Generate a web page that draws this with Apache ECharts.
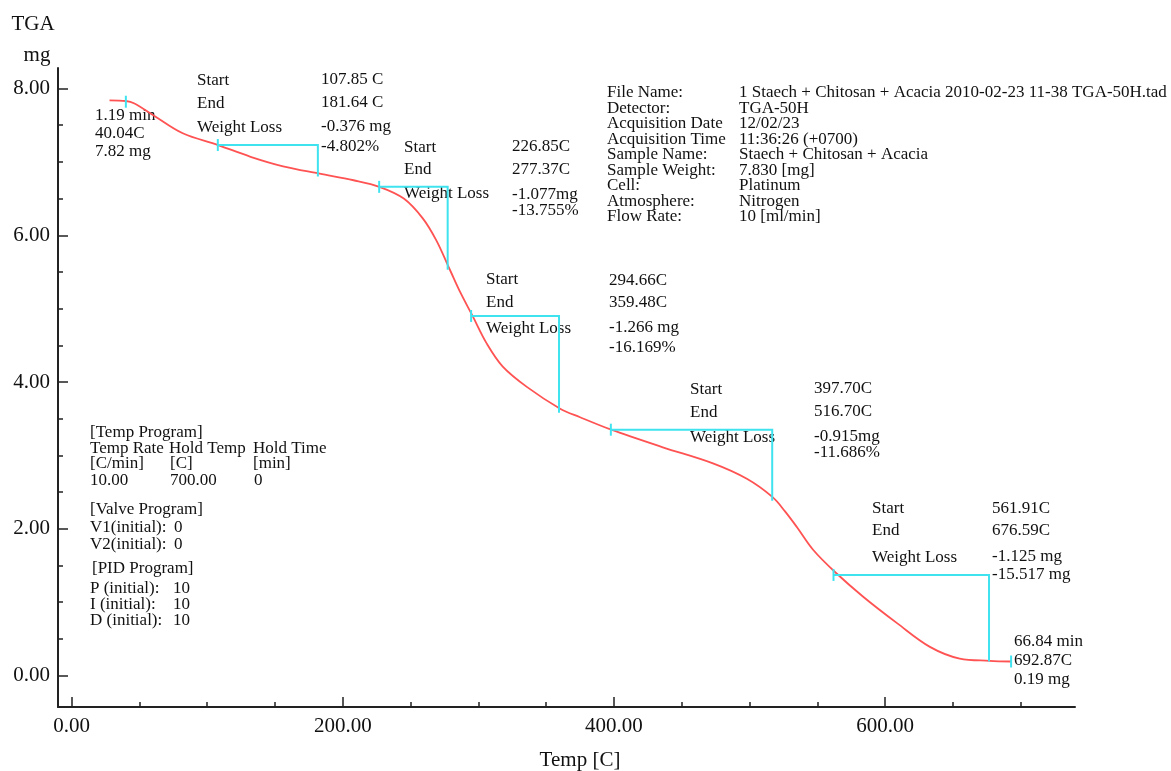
<!DOCTYPE html>
<html>
<head>
<meta charset="utf-8">
<title>TGA - Staech + Chitosan + Acacia</title>
<script src="https://cdn.jsdelivr.net/npm/echarts@6/dist/echarts.min.js"></script>
<style>
  html, body { margin: 0; padding: 0; background: #fff; }
  #chart { width: 1171px; height: 771px; }
</style>
</head>
<body>
<div id="chart"></div>
<script>
// ---- TGA curve: temperature (C) vs sample weight (mg) ----
const tempC = [28, 40, 46, 60, 82, 108, 132, 156, 183, 208, 227, 245, 259, 269, 279, 287, 296, 306, 318, 336,
               360, 375, 398, 436, 473, 498, 517, 526, 535, 547, 563, 584, 609, 633, 655, 677, 693];
const weightMg = [7.84, 7.83, 7.80, 7.64, 7.39, 7.23, 7.07, 6.94, 6.84, 6.75, 6.66, 6.50, 6.23, 5.93, 5.53, 5.21, 4.89, 4.53, 4.21, 3.93,
                  3.64, 3.52, 3.35, 3.11, 2.89, 2.68, 2.43, 2.24, 2.02, 1.71, 1.41, 1.07, 0.71, 0.39, 0.23, 0.20, 0.19];

// ---- weight-loss steps ----
const stepStartT = [107.85, 226.85, 294.66, 397.70, 561.91];
const stepEndT = [181.64, 277.37, 359.48, 516.70, 676.59];
const stepStartW = [7.23, 6.66, 4.90, 3.35, 1.37];
const stepLossMg = [0.376, 1.077, 1.266, 0.915, 1.125];
const stepStartText = ['107.85 C', '226.85C', '294.66C', '397.70C', '561.91C'];
const stepEndText = ['181.64 C', '277.37C', '359.48C', '516.70C', '676.59C'];
const stepLossText = ['-0.376 mg', '-1.077mg', '-1.266 mg', '-0.915mg', '-1.125 mg'];
const stepPctText = ['-4.802%', '-13.755%', '-16.169%', '-11.686%', '-15.517 mg'];

// ---- first / last readings ----
const pointTemp = [40.04, 692.87];
const pointWeight = [7.82, 0.19];
const pointTime = ['1.19 min', '66.84 min'];

// ---- axis ticks ----
const xMajorTicks = [0, 200, 400, 600];
const xMinorTicks = [0, 50, 100, 150, 200, 250, 300, 350, 400, 450, 500, 550, 600, 650, 700];
const yMajorTicks = [0, 2, 4, 6, 8];
const yMinorTicks = [0, 0.5, 1, 1.5, 2, 2.5, 3, 3.5, 4, 4.5, 5, 5.5, 6, 6.5, 7, 7.5, 8];

// ---- run information ----
const infoKeys = ['File Name:', 'Detector:', 'Acquisition Date', 'Acquisition Time', 'Sample Name:',
                  'Sample Weight:', 'Cell:', 'Atmosphere:', 'Flow Rate:'];
const infoValues = ['1 Staech + Chitosan + Acacia 2010-02-23 11-38 TGA-50H.tad', 'TGA-50H', '12/02/23',
                    '11:36:26 (+0700)', 'Staech + Chitosan + Acacia', '7.830 [mg]', 'Platinum', 'Nitrogen', '10 [ml/min]'];

const SERIF = '"Liberation Serif", "Times New Roman", serif';
const INK = '#111';
const CYAN = '#3fe3f0';
const RED = '#ff5252';
const BODY = 17;

const graphics = [];
function addText(text, x, y, size, align) {
  graphics.push({
    type: 'text', x: x, y: y, silent: true,
    style: {
      text: text, fill: INK, fontSize: size || BODY, fontFamily: SERIF,
      align: align || 'left', verticalAlign: 'middle',
      textAlign: align || 'left', textVerticalAlign: 'middle'
    }
  });
}

// axis titles
addText('TGA', 33, 24, 21, 'center');
addText('mg', 37, 55, 21, 'center');
addText('Temp [C]', 580, 760, 21, 'center');

// run information block
infoKeys.forEach((k, i) => {
  const y = 93 + i * 15.5;
  addText(k, 607, y);
  addText(infoValues[i], 739, y);
});

// temperature / valve / PID program block
const programRows = [
  ['[Temp Program]', 90, 433],
  ['Temp Rate', 90, 449], ['Hold Temp', 169, 449], ['Hold Time', 253, 449],
  ['[C/min]', 90, 464], ['[C]', 170, 464], ['[min]', 253, 464],
  ['10.00', 90, 481], ['700.00', 170, 481], ['0', 254, 481],
  ['[Valve Program]', 90, 510],
  ['V1(initial):', 90, 528], ['0', 174, 528],
  ['V2(initial):', 90, 545], ['0', 174, 545],
  ['[PID Program]', 92, 569],
  ['P (initial):', 90, 589], ['10', 173, 589],
  ['I (initial):', 90, 605], ['10', 173, 605],
  ['D (initial):', 90, 621], ['10', 173, 621]
];
programRows.forEach(r => addText(r[0], r[1], r[2]));

// step annotation blocks: label column x, value column x, label rows, value rows
const stepLayout = [
  { lx: 197, vx: 321, ly: [81, 104, 128], vy: [80, 103, 127, 147] },
  { lx: 404, vx: 512, ly: [148, 170, 194], vy: [147, 170, 195, 211] },
  { lx: 486, vx: 609, ly: [280, 303, 329], vy: [281, 303, 328, 348] },
  { lx: 690, vx: 814, ly: [390, 413, 438], vy: [389, 412, 437, 453] },
  { lx: 872, vx: 992, ly: [509, 531, 558], vy: [509, 531, 557, 575] }
];
stepLayout.forEach((s, i) => {
  addText('Start', s.lx, s.ly[0]);
  addText('End', s.lx, s.ly[1]);
  addText('Weight Loss', s.lx, s.ly[2]);
  addText(stepStartText[i], s.vx, s.vy[0]);
  addText(stepEndText[i], s.vx, s.vy[1]);
  addText(stepLossText[i], s.vx, s.vy[2]);
  addText(stepPctText[i], s.vx, s.vy[3]);
});

// first / last point readouts
const pointLayout = [{ x: 95, y: [116, 134, 152] }, { x: 1014, y: [642, 661, 680] }];
pointLayout.forEach((p, i) => {
  addText(pointTime[i], p.x, p.y[0]);
  addText(pointTemp[i].toFixed(2) + 'C', p.x, p.y[1]);
  addText(pointWeight[i].toFixed(2) + ' mg', p.x, p.y[2]);
});

const axisLineStyle = { color: '#222', width: 2 };
const tickLine = { color: '#222', width: 1.5 };
const fmt2 = v => Number(v).toFixed(2);
const tickFont = { fontSize: 21, fontFamily: SERIF, color: INK };

const option = {
  animation: false,
  backgroundColor: '#fff',
  grid: { left: 58, right: 96, top: 68, bottom: 64, containLabel: false },
  xAxis: [
    {
      type: 'value', min: -10, max: 740, position: 'bottom',
      axisLine: { show: true, onZero: false, lineStyle: axisLineStyle },
      axisTick: { show: true, inside: true, length: 5, customValues: xMinorTicks, lineStyle: tickLine },
      axisLabel: Object.assign({ show: true, customValues: xMajorTicks, formatter: fmt2, margin: 9 }, tickFont),
      splitLine: { show: false }
    },
    {
      type: 'value', min: -10, max: 740, position: 'bottom', offset: 0,
      axisLine: { show: false, onZero: false },
      axisTick: { show: true, inside: true, length: 10, customValues: xMajorTicks, lineStyle: tickLine },
      axisLabel: { show: false },
      splitLine: { show: false }
    }
  ],
  yAxis: [
    {
      type: 'value', min: -0.43, max: 8.28, position: 'left',
      axisLine: { show: true, onZero: false, lineStyle: axisLineStyle },
      axisTick: { show: true, inside: true, length: 5, customValues: yMinorTicks, lineStyle: tickLine },
      axisLabel: Object.assign({ show: true, customValues: yMajorTicks, formatter: fmt2, margin: 8 }, tickFont),
      splitLine: { show: false }
    },
    {
      type: 'value', min: -0.43, max: 8.28, position: 'left', offset: 0,
      axisLine: { show: false, onZero: false },
      axisTick: { show: true, inside: true, length: 10, customValues: yMajorTicks, lineStyle: tickLine },
      axisLabel: { show: false },
      splitLine: { show: false }
    }
  ],
  graphic: graphics,
  series: [
    {
      name: 'TGA',
      type: 'line',
      xAxisIndex: 0, yAxisIndex: 0,
      data: tempC.map((t, i) => [t, weightMg[i]]),
      smooth: 0.35,
      showSymbol: false,
      lineStyle: { color: RED, width: 1.8 },
      z: 3
    },
    {
      // step analysis brackets: horizontal at the start weight, drop by the weight loss
      name: 'steps',
      type: 'custom',
      xAxisIndex: 0, yAxisIndex: 0,
      data: stepStartT.map((t, i) => [t, stepEndT[i], stepStartW[i], stepLossMg[i]]),
      encode: { x: [0, 1], y: [2] },
      renderItem: function (params, api) {
        const sT = api.value(0), eT = api.value(1), sW = api.value(2), loss = api.value(3);
        const p0 = api.coord([sT, sW]);
        const p1 = api.coord([eT, sW]);
        const p2 = api.coord([eT, sW - loss]);
        return {
          type: 'group',
          children: [
            { type: 'polyline', shape: { points: [p0, p1, [p2[0], p2[1] + 4]] },
              style: { stroke: CYAN, lineWidth: 2, fill: null } },
            { type: 'line', shape: { x1: p0[0], y1: p0[1] - 6, x2: p0[0], y2: p0[1] + 6 },
              style: { stroke: CYAN, lineWidth: 2 } }
          ]
        };
      },
      z: 4
    },
    {
      // tick marks at the first and last readings
      name: 'readings',
      type: 'custom',
      xAxisIndex: 0, yAxisIndex: 0,
      data: pointTemp.map((t, i) => [t, pointWeight[i]]),
      encode: { x: 0, y: 1 },
      renderItem: function (params, api) {
        const p = api.coord([api.value(0), api.value(1)]);
        return { type: 'line', shape: { x1: p[0], y1: p[1] - 6, x2: p[0], y2: p[1] + 6 },
                 style: { stroke: CYAN, lineWidth: 2 } };
      },
      z: 4
    }
  ]
};

const chart = echarts.init(document.getElementById('chart'), null, { renderer: 'canvas' });
chart.setOption(option);
</script>
</body>
</html>
